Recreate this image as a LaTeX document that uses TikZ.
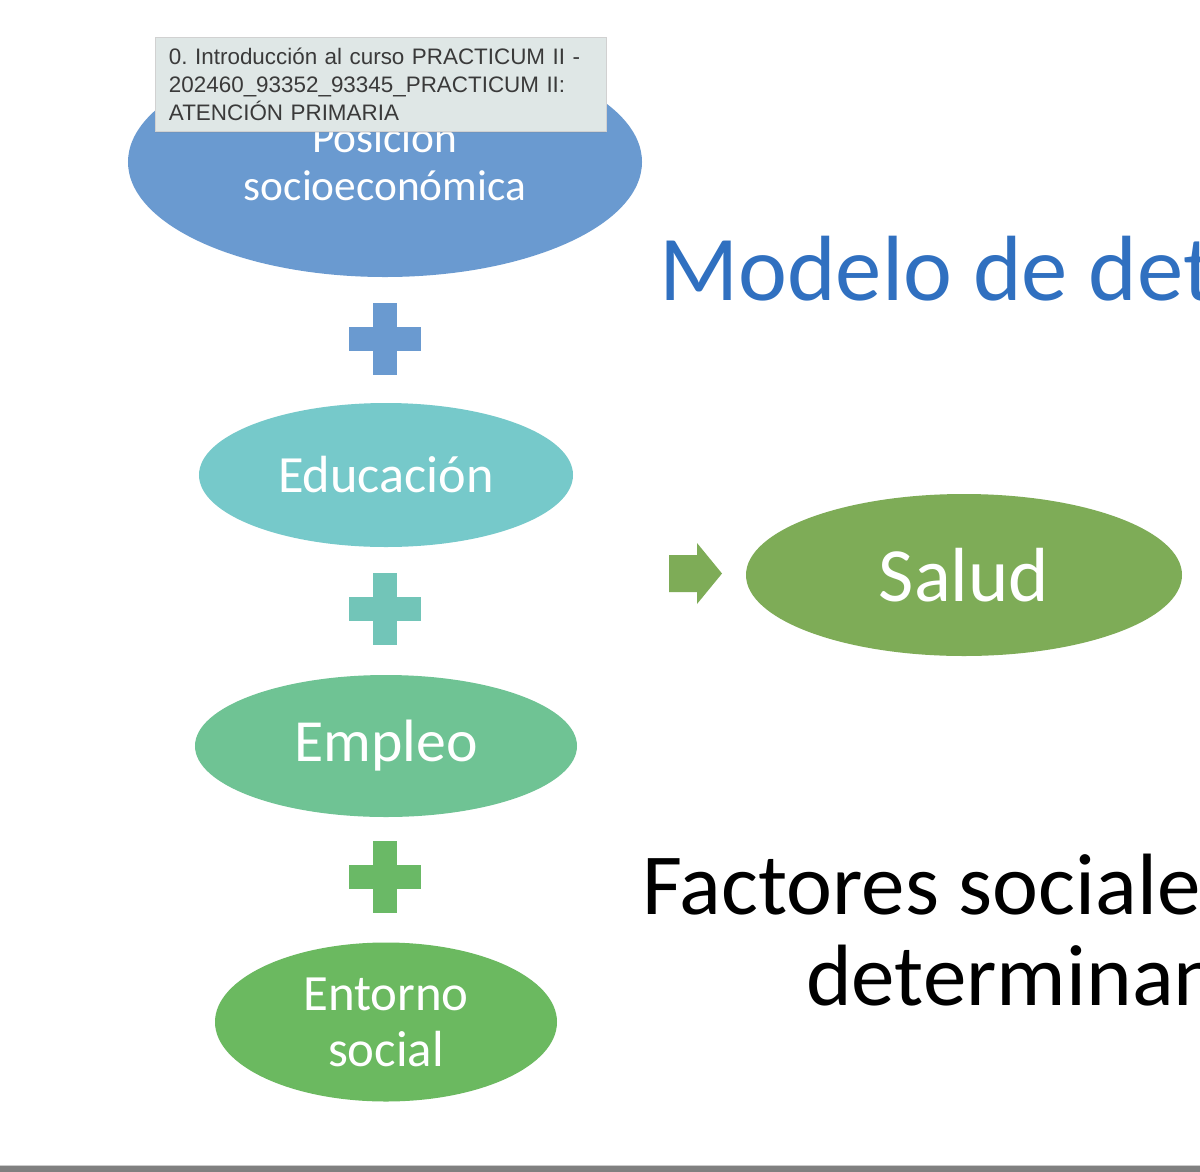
\documentclass[tikz,border=0pt]{standalone}
\usepackage{fontspec}
\setmainfont{Carlito}
\newfontfamily\tipfont{Liberation Sans}
\usetikzlibrary{positioning,shapes.geometric,shadows}
\definecolor{posblue}{HTML}{6A9AD0}
\definecolor{eduteal}{HTML}{76C9CA}
\definecolor{empgreen}{HTML}{6FC394}
\definecolor{entgreen}{HTML}{6BB960}
\definecolor{salgreen}{HTML}{7EAC57}
\definecolor{plusteal}{HTML}{72C5B8}
\definecolor{plusgreen}{HTML}{6AB966}
\definecolor{titleblue}{HTML}{3070C0}
\definecolor{tipfill}{HTML}{DFE7E6}
\definecolor{tiptext}{HTML}{3A3A3A}
\frenchspacing

\tikzset{
  factor/.style={ellipse,inner sep=0pt,text=white,align=center},
  plussign/.pic={
    \fill[#1](-36,-12)rectangle(36,12);
    \fill[#1](-12,-36)rectangle(12,36);}
}

\begin{document}
\begin{tikzpicture}[x=1bp,y=-1bp]
        \useasboundingbox(0,0)rectangle(1200,1172);
        \clip(0,0)rectangle(1200,1172);
        \fill[white](0,0)rectangle(1200,1172);
        % elipses de la izquierda
        \node[factor,fill=posblue,minimum width=514bp,minimum height=230bp,
          font=\fontsize{43.5}{48}\selectfont](posicion)at(385,162)
          {Posición\\socioeconómica};
        \pic at(385,339){plussign=posblue};
        \node[factor,fill=eduteal,minimum width=374bp,minimum height=144bp,
          font=\fontsize{52.5}{56}\selectfont](educacion)at(386,475){Educación};
        \pic at(385,609){plussign=plusteal};
        \node[factor,fill=empgreen,minimum width=382bp,minimum height=142bp,
          font=\fontsize{60}{66}\selectfont](empleo)at(386,746){Empleo};
        \pic at(385,877){plussign=plusgreen};
        \node[factor,fill=entgreen,minimum width=342bp,minimum height=159bp,
          font=\fontsize{51}{56}\selectfont](entorno)at(386,1022){Entorno\\social};
        % flecha y salud
        \fill[salgreen](669,555)--(697,555)--(697,543)--(722,573.5)
          --(697,604)--(697,592)--(669,592)--cycle;
        \node[factor,fill=salgreen,minimum width=436bp,minimum height=162bp,
          font=\fontsize{77}{84}\selectfont](salud)at(964,575){Salud};
        % titulos
        \node[anchor=base west,inner sep=0pt,text=titleblue,
          font=\fontsize{93}{100}\selectfont](titulo)at(659,300){Modelo de det};
        \node[anchor=base west,inner sep=0pt,
          font=\fontsize{87.4}{94}\selectfont](factores)at(642,914){Factores sociale};
        \node[anchor=base west,inner sep=0pt,
          font=\fontsize{87.4}{94}\selectfont](determinan)at(806,1005){determinan};
        % recuadro emergente
        \node[draw=black!18,fill=tipfill,line width=0.8bp,
          drop shadow={opacity=0.18,shadow xshift=0bp,shadow yshift=-2bp},
          minimum width=451bp,minimum height=94bp,inner xsep=14bp,
          text width=423bp,align=left,text=tiptext,
          font=\tipfont\fontsize{22.5}{28}\selectfont](aviso)at(380.5,84)
          {0. Introducción al curso PRACTICUM II -\\
           202460\_93352\_93345\_PRACTICUM II:\\
           ATENCIÓN PRIMARIA};
        % barra inferior
        \draw[black!20,line width=1bp](0,1165.5)--(1200,1165.5);
        \fill[black!50](0,1166)rectangle(1200,1172);
      \end{tikzpicture}
\end{document}
